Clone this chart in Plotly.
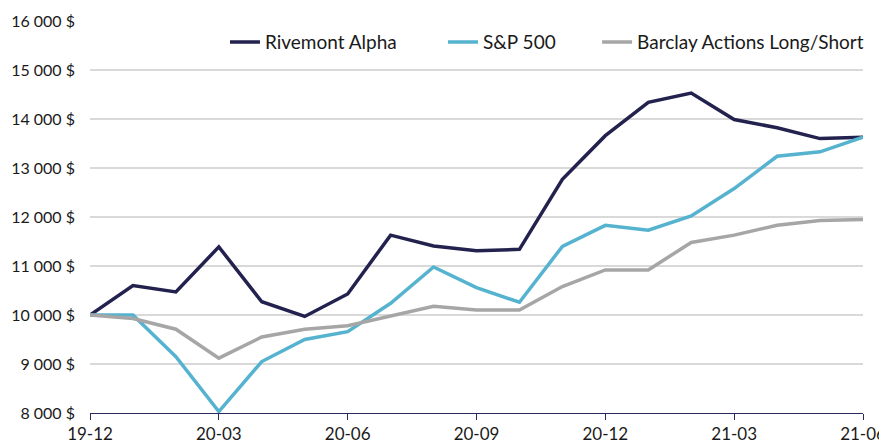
import plotly.graph_objects as go

months = ["19-12", "20-01", "20-02", "20-03", "20-04", "20-05", "20-06", "20-07", "20-08", "20-09",
          "20-10", "20-11", "20-12", "21-01", "21-02", "21-03", "21-04", "21-05", "21-06"]

rivemont = [10000, 10600, 10470, 11390, 10270, 9970, 10430, 11630, 11410, 11310,
            11340, 12770, 13660, 14340, 14530, 13990, 13820, 13600, 13630]
sp500 = [10000, 10000, 9150, 8030, 9050, 9500, 9660, 10240, 10980, 10560,
         10260, 11400, 11830, 11730, 12020, 12580, 13240, 13330, 13630]
barclay = [10000, 9930, 9710, 9120, 9550, 9710, 9780, 9980, 10180, 10100,
           10100, 10580, 10920, 10920, 11480, 11630, 11830, 11930, 11950]

series_names = ["Rivemont Alpha", "S&P 500", "Barclay Actions Long/Short"]
colors = ["#23224F", "#55B3CF", "#A6A6A6"]

x_ticks = ["19-12", "20-03", "20-06", "20-09", "20-12", "21-03", "21-06"]
y_ticks = [8000, 9000, 10000, 11000, 12000, 13000, 14000, 15000, 16000]
y_labels = ["8 000 $", "9 000 $", "10 000 $", "11 000 $", "12 000 $", "13 000 $",
            "14 000 $", "15 000 $", "16 000 $"]

legend_ids = ["legend", "legend2", "legend3"]
legend_x = [0.1746, 0.4567, 0.656]

fig = go.Figure()
for name, vals, col, lg in zip(series_names, [rivemont, sp500, barclay], colors, legend_ids):
    fig.add_trace(go.Scatter(x=months, y=vals, mode="lines", name=name, legend=lg,
                             showlegend=True, line=dict(color=col, width=3.5)))

legend_style = dict(orientation="h", y=0.946, xanchor="left", yanchor="middle",
                    font=dict(size=19), bgcolor="rgba(0,0,0,0)")

fig.update_layout(
    width=879, height=439, showlegend=True,
    margin=dict(l=82, r=24, t=13, b=34, autoexpand=False),
    paper_bgcolor="white", plot_bgcolor="white",
    font=dict(family="Lato, Open Sans, sans-serif", size=17, color="#1a1a1a"),
    legend=dict(x=legend_x[0], **legend_style),
    legend2=dict(x=legend_x[1], **legend_style),
    legend3=dict(x=legend_x[2], **legend_style),
    xaxis=dict(type="category", range=[0, 18], tickmode="array", tickvals=x_ticks,
               ticktext=x_ticks, showgrid=False, showline=True, linecolor="#2A2A5A",
               linewidth=1, ticks="outside", ticklen=6, tickcolor="#2A2A5A",
               automargin=False),
    yaxis=dict(range=[8000, 16000], tickmode="array", tickvals=y_ticks, ticktext=y_labels,
               showgrid=True, gridcolor="#D9D9D9", gridwidth=1.5, zeroline=False,
               showline=False, ticks="", ticklabelstandoff=14, automargin=False,
               tickfont=dict(size=16)),
)

fig.write_html("out.html")
